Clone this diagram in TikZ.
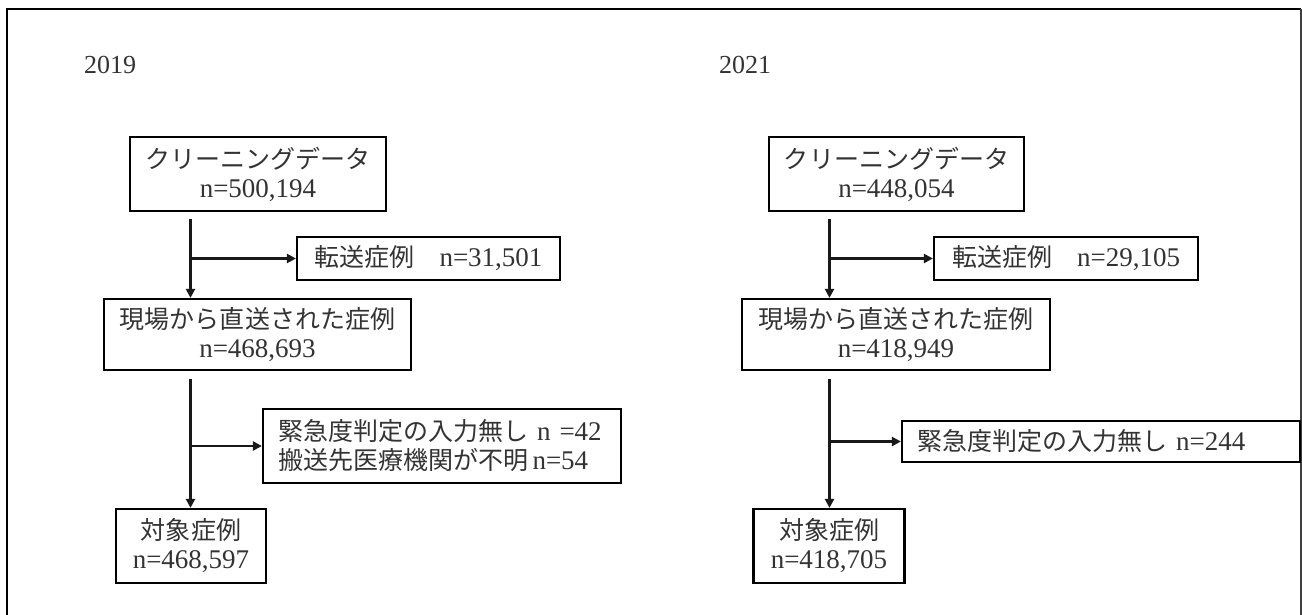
\documentclass[tikz,border=0pt]{standalone}
\usepackage{fontspec}
\setmainfont{Liberation Serif}
\newfontfamily\cjk{Noto Sans CJK JP}[Scale=0.926]
\newcommand\J[1]{{\cjk #1}}
\usetikzlibrary{arrows.meta}
\tikzset{
  box/.style={draw=black, line width=2.2pt, inner sep=0pt, align=center,
    text=black!80, font=\fontsize{27}{29}\selectfont},
  conn/.style={line width=2.2pt, draw=black!90},
  arr/.style={conn, -{Triangle[length=9pt,width=9pt]}},
  yearlbl/.style={text=black!80, font=\fontsize{26}{29}\selectfont, inner sep=0pt},
  frame/.style={line width=2.6pt, draw=black}
}
\begin{document}
\begin{tikzpicture}[x=1pt,y=-1pt]
\useasboundingbox (0,0) rectangle (1302,614);
% frame
\draw[frame] (7,640) -- (7,9) -- (1301,9);
\draw[line width=2pt, draw=black!75] (1301,9) -- (1301,640);

% ---------- 2019 ----------
\node[yearlbl] (y1) at (110,65) {2019};
\node[box, minimum width=256, minimum height=74] (a1) at (258,174)
  {\J{クリーニングデータ}\\n=500,194};
\node[box, minimum width=263, minimum height=43] (t1) at (428.5,258.5)
  {\J{転送症例　}n=31,501};
\node[box, minimum width=307, minimum height=71] (a2) at (257.5,334.5)
  {\J{現場から直送された症例}\\n=468,693};
\node[box, minimum width=358, minimum height=74, align=left, text width=328] (e1) at (442,446)
  {\J{緊急度判定の入力無し} n =42\\\J{搬送先医療機関が不明}\,n=54};
\node[box, minimum width=150, minimum height=74] (a3) at (191,546)
  {\J{対象症例}\\n=468,597};
\coordinate (L) at (190.5,0);
\draw[arr] ([yshift=-7pt]a1.south -| L) -- (a2.north -| L);
\draw[arr] (L |- t1.west) -- (t1.west);
\draw[arr] ([yshift=-8pt]a2.south -| L) -- (a3.north -| L);
\draw[arr] (L |- e1.west) -- (e1.west);

% ---------- 2021 ----------
\node[yearlbl] (y2) at (745,65) {2021};
\node[box, minimum width=255, minimum height=74] (b1) at (896.5,174)
  {\J{クリーニングデータ}\\n=448,054};
\node[box, minimum width=264, minimum height=43] (u1) at (1066,258.5)
  {\J{転送症例　}n=29,105};
\node[box, minimum width=308, minimum height=71] (b2) at (896,334.5)
  {\J{現場から直送された症例}\\n=418,949};
\node[box, minimum width=398, minimum height=41, align=left, text width=368] (f1) at (1101,441.5)
  {\J{緊急度判定の入力無し} n=244};
\node[box, minimum width=151, minimum height=74] (b3) at (829,546)
  {\J{対象症例}\\n=418,705};
\coordinate (R) at (829.5,0);
\draw[arr] ([yshift=-7pt]b1.south -| R) -- (b2.north -| R);
\draw[arr] (R |- u1.west) -- (u1.west);
\draw[arr] ([yshift=-8pt]b2.south -| R) -- (b3.north -| R);
\draw[arr] (R |- f1.west) -- (f1.west);
\end{tikzpicture}
\end{document}
